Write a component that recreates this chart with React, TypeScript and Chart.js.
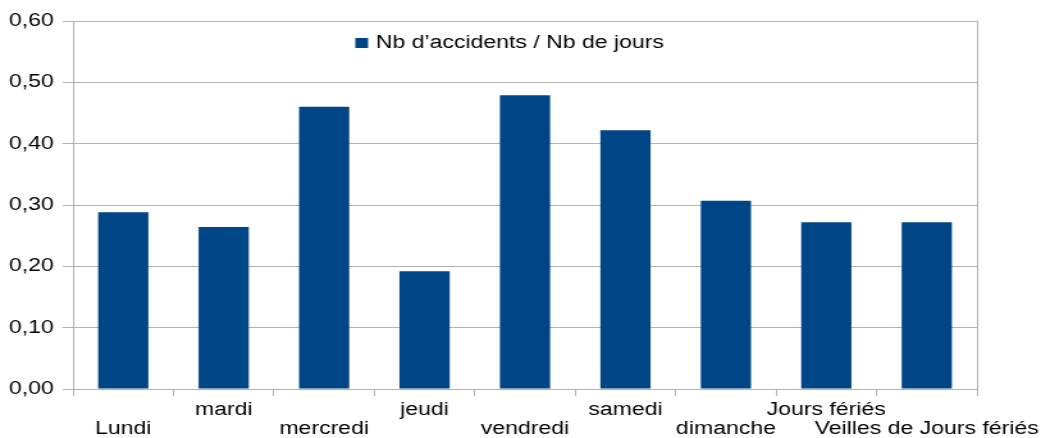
import React, { useEffect, useRef } from "react";
import { Chart, registerables } from "chart.js";

Chart.register(...registerables);

const categories = [
  "Lundi",
  "mardi",
  "mercredi",
  "jeudi",
  "vendredi",
  "samedi",
  "dimanche",
  "Jours fériés",
  "Veilles de Jours fériés",
];
const seriesLabel = "Nb d’accidents / Nb de jours";
const values = [0.288, 0.264, 0.46, 0.192, 0.479, 0.422, 0.307, 0.272, 0.272];
const yTicks = [0, 0.1, 0.2, 0.3, 0.4, 0.5, 0.6];

const BLUE = "#004586";
const GRID = "#b3b3b3";
const TEXT = "#000000";
const FONT = "'Liberation Sans', Arial, sans-serif";
const FONT_SIZE = 18;

// The reference image is horizontally stretched; draw at a narrower
// internal width and let CSS scale it to the full page width.
const DISPLAY_W = 1041;
const DISPLAY_H = 438;
const INTERNAL_W = 813;

// Legend drawn inside the plot area, near the top, centred.
const insideLegend = {
  id: "insideLegend",
  afterDatasetsDraw(chart: any) {
    const { ctx, chartArea } = chart;
    const ds = chart.data.datasets[0];
    ctx.save();
    ctx.font = `${FONT_SIZE}px ${FONT}`;
    const text = String(ds.label);
    const tw = ctx.measureText(text).width;
    const box = 10;
    const gap = 6;
    const total = box + gap + tw;
    const cx = chartArea.left + (chartArea.right - chartArea.left) * 0.483;
    const cy = chartArea.top + 22;
    const x0 = cx - total / 2;
    ctx.fillStyle = ds.backgroundColor;
    ctx.fillRect(x0, cy - box / 2, box, box);
    ctx.fillStyle = TEXT;
    ctx.textBaseline = "middle";
    ctx.textAlign = "left";
    ctx.fillText(text, x0 + box + gap, cy);
    ctx.restore();
  },
};

export default function App() {
  const ref = useRef<HTMLCanvasElement | null>(null);

  useEffect(() => {
    if (!ref.current) return;
    const chart = new Chart(ref.current, {
      type: "bar",
      data: {
        labels: categories,
        datasets: [
          {
            label: seriesLabel,
            data: values,
            backgroundColor: BLUE,
            borderWidth: 0,
            barPercentage: 0.5,
            categoryPercentage: 1,
          },
        ],
      },
      options: {
        responsive: false,
        animation: false,
        devicePixelRatio: 1,
        layout: { padding: { left: 0, top: 21, right: 0, bottom: -6 } },
        plugins: {
          tooltip: { enabled: false },
          legend: { display: false },
        },
        scales: {
          x: {
            offset: true,
            afterFit: (scale: any) => {
              scale.paddingRight = 50;
            },
            grid: {
              offset: true,
              drawOnChartArea: false,
              color: GRID,
              tickLength: 7,
            },
            border: { display: true, color: GRID },
            ticks: {
              autoSkip: false,
              maxRotation: 0,
              minRotation: 0,
              padding: 5,
              color: TEXT,
              font: { family: FONT, size: FONT_SIZE, lineHeight: "19px" as any },
              callback: function (this: any, value: any, index: number) {
                const l = this.getLabelForValue(value);
                return index % 2 === 0 ? ["", l] : [l];
              },
            },
          },
          y: {
            min: 0,
            max: 0.6,
            afterBuildTicks: (scale: any) => {
              scale.ticks = yTicks.map((v) => ({ value: v }));
            },
            grid: { color: GRID, tickLength: 8 },
            border: { display: true, color: GRID },
            ticks: {
              padding: 7,
              color: TEXT,
              font: { family: FONT, size: FONT_SIZE },
              callback: (v: any) => Number(v).toFixed(2).replace(".", ","),
            },
          },
          y2: {
            position: "right",
            min: 0,
            max: 0.6,
            grid: { display: false, drawTicks: false },
            border: { display: true, color: GRID },
            ticks: { display: false },
          },
        },
      },
      plugins: [insideLegend],
    });
    return () => chart.destroy();
  }, []);

  return (
    <div
      style={{
        position: "fixed",
        left: 0,
        top: 0,
        width: DISPLAY_W,
        height: DISPLAY_H,
        background: "#ffffff",
      }}
    >
      <canvas
        ref={ref}
        width={INTERNAL_W}
        height={DISPLAY_H}
        style={{ width: DISPLAY_W + "px", height: DISPLAY_H + "px" }}
      />
    </div>
  );
}
